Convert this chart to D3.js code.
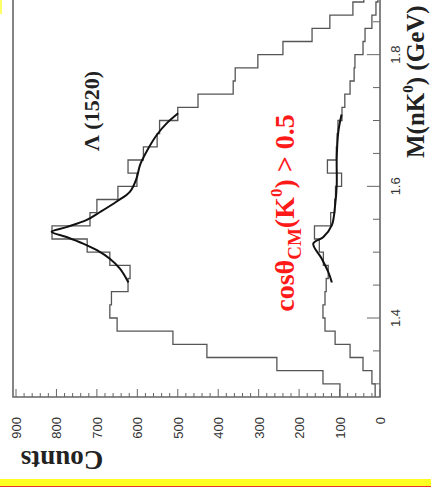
<!DOCTYPE html>
<html>
<head>
<meta charset="utf-8">
<script src="https://cdn.jsdelivr.net/npm/d3@7"></script>
<style>
  body { margin: 0; background: #fff; }
  svg { display: block; }
</style>
</head>
<body>
<svg></svg>
<script>
// lower edge of each 0.02 GeV bin
const binLow = [1.28, 1.30, 1.32, 1.34, 1.36, 1.38, 1.40, 1.42, 1.44, 1.46, 1.48,
                1.50, 1.52, 1.54, 1.56, 1.58, 1.60, 1.62, 1.64, 1.66, 1.68, 1.70,
                1.72, 1.74, 1.76, 1.78, 1.80, 1.82, 1.84, 1.86, 1.88];
const binWidth = 0.02;

// all events
const allCounts = [99, 141, 255, 428, 512, 650, 668, 664, 623, 618, 668,
                   724, 811, 717, 700, 648, 601, 623, 585, 551, 545, 500,
                   450, 363, 358, 302, 240, 168, 124, 67, 40];
// cos(theta_CM) > 0.5
const cutCounts = [12, 20, 42, 74, 111, 136, 141, 136, 133, 128, 140,
                   150, 162, 122, 112, 110, 95, 130, 108, 106, 104, 94,
                   87, 74, 64, 62, 42, 37, 20, 10, 5];

// fit curves [mass, counts]
const allFit = [[1.454, 622], [1.475, 643], [1.490, 668], [1.503, 700], [1.513, 734],
                [1.523, 775], [1.531, 812], [1.538, 775], [1.549, 725], [1.561, 692],
                [1.577, 651], [1.592, 618], [1.612, 602], [1.633, 593], [1.653, 577],
                [1.678, 552], [1.696, 527], [1.711, 499]];
const cutFit = [[1.454, 119], [1.470, 128], [1.490, 144], [1.513, 165], [1.523, 140],
                [1.541, 119], [1.571, 111], [1.602, 107], [1.643, 107], [1.683, 103],
                [1.709, 95]];

const countTicks = [0, 100, 200, 300, 400, 500, 600, 700, 800, 900];
const massLabels = [1.4, 1.6, 1.8];

const width = 431, height = 487;
const serif = '"Liberation Serif", "Times New Roman", serif';
const sans = '"Liberation Sans", Arial, sans-serif';

const svg = d3.select('svg')
    .attr('width', width)
    .attr('height', height);

// plot is turned a quarter turn: mass runs up, counts run left
const mass = d3.scaleLinear().domain([1.28, 1.88]).range([397, 2]);
const counts = d3.scaleLinear().domain([0, 900]).range([380, 16]);

svg.append('clipPath').attr('id', 'plot')
  .append('rect')
    .attr('x', 13).attr('y', 0)
    .attr('width', 367).attr('height', 397);

const plot = svg.append('g').attr('clip-path', 'url(#plot)');

const histLine = d3.line()
    .x(d => counts(d[1]))
    .y(d => mass(d[0]));

const steps = vals => vals.flatMap((c, i) => [[binLow[i], c], [binLow[i] + binWidth, c]]);

plot.append('path')
    .datum(steps(allCounts))
    .attr('d', histLine)
    .attr('fill', 'none')
    .attr('stroke', '#555')
    .attr('stroke-width', 1.3);

plot.append('path')
    .datum(steps(cutCounts))
    .attr('d', histLine)
    .attr('fill', 'none')
    .attr('stroke', '#555')
    .attr('stroke-width', 1.3);

const fitLine = d3.line()
    .x(d => counts(d[1]))
    .y(d => mass(d[0]))
    .curve(d3.curveCatmullRom);

[allFit, cutFit].forEach(f => {
  plot.append('path')
      .datum(f)
      .attr('d', fitLine)
      .attr('fill', 'none')
      .attr('stroke', '#111')
      .attr('stroke-width', 2);
});

// frame
const frame = svg.append('g').attr('stroke', '#666').attr('stroke-width', 1.6).attr('fill', 'none');
frame.append('path').attr('d', 'M13,0V397H380V0');

// counts axis (bottom)
const cTicks = svg.append('g').attr('stroke', '#666').attr('stroke-width', 1);
d3.range(0, 901, 20).forEach(v => {
  const major = v % 100 === 0;
  cTicks.append('line')
      .attr('x1', counts(v)).attr('x2', counts(v))
      .attr('y1', 397).attr('y2', 397 - (major ? 8 : 4));
});
svg.append('g').selectAll('text')
  .data(countTicks)
  .join('text')
    .attr('transform', d => `translate(${counts(d) + 5},417) rotate(-90)`)
    .attr('text-anchor', 'end')
    .attr('font-family', sans)
    .attr('font-size', 13)
    .attr('fill', '#333')
    .text(d => d);

svg.append('text')
    .attr('transform', 'translate(62,451) rotate(180)')
    .attr('text-anchor', 'middle')
    .attr('font-family', serif)
    .attr('font-weight', 'bold')
    .attr('font-size', 27)
    .attr('fill', '#222')
    .text('Counts');

// mass axis (right)
const mTicks = svg.append('g').attr('stroke', '#666').attr('stroke-width', 1);
d3.range(1.30, 1.88, 0.05).forEach(v => {
  const major = massLabels.some(m => Math.abs(m - v) < 1e-6);
  mTicks.append('line')
      .attr('x1', 380).attr('x2', 380 - (major ? 13 : 7))
      .attr('y1', mass(v)).attr('y2', mass(v));
});
svg.append('g').selectAll('text')
  .data(massLabels)
  .join('text')
    .attr('transform', d => `translate(400,${mass(d)}) rotate(-90)`)
    .attr('text-anchor', 'middle')
    .attr('font-family', sans)
    .attr('font-size', 13)
    .attr('fill', '#333')
    .text(d => d.toFixed(1));

const mTitle = svg.append('text')
    .attr('transform', 'translate(424,158) rotate(-90)')
    .attr('font-family', serif)
    .attr('font-weight', 'bold')
    .attr('font-size', 25)
    .attr('fill', '#222');
mTitle.append('tspan').text('M(nK');
mTitle.append('tspan').attr('font-size', 15).attr('dy', -11).text('0');
mTitle.append('tspan').attr('dy', 11).text(') (GeV)');

// labels inside the plot
svg.append('text')
    .attr('transform', 'translate(99,111) rotate(-90)')
    .attr('text-anchor', 'middle')
    .attr('font-family', serif)
    .attr('font-weight', 'bold')
    .attr('font-size', 22)
    .attr('fill', '#222')
    .text('Λ (1520)');

const cut = svg.append('text')
    .attr('transform', 'translate(294,213) rotate(-90)')
    .attr('text-anchor', 'middle')
    .attr('font-family', serif)
    .attr('font-weight', 'bold')
    .attr('font-size', 28)
    .attr('fill', '#ff1a1a');
cut.append('tspan').text('cosθ');
cut.append('tspan').attr('font-size', 19).attr('dy', 7).text('CM');
cut.append('tspan').attr('dy', -7).text('(K');
cut.append('tspan').attr('font-size', 17).attr('dy', -12).text('0');
cut.append('tspan').attr('dy', 12).text(') > 0.5');

// yellow band at the bottom edge
svg.append('rect').attr('x', 0).attr('y', 479).attr('width', width).attr('height', 8).attr('fill', '#ffff22');
svg.append('line').attr('x1', 0).attr('x2', width).attr('y1', 486.5).attr('y2', 486.5)
    .attr('stroke', '#e83030').attr('stroke-width', 1);
svg.append('rect').attr('x', 0).attr('y', 0).attr('width', 2).attr('height', 14).attr('fill', '#ffff66');
</script>
</body>
</html>
